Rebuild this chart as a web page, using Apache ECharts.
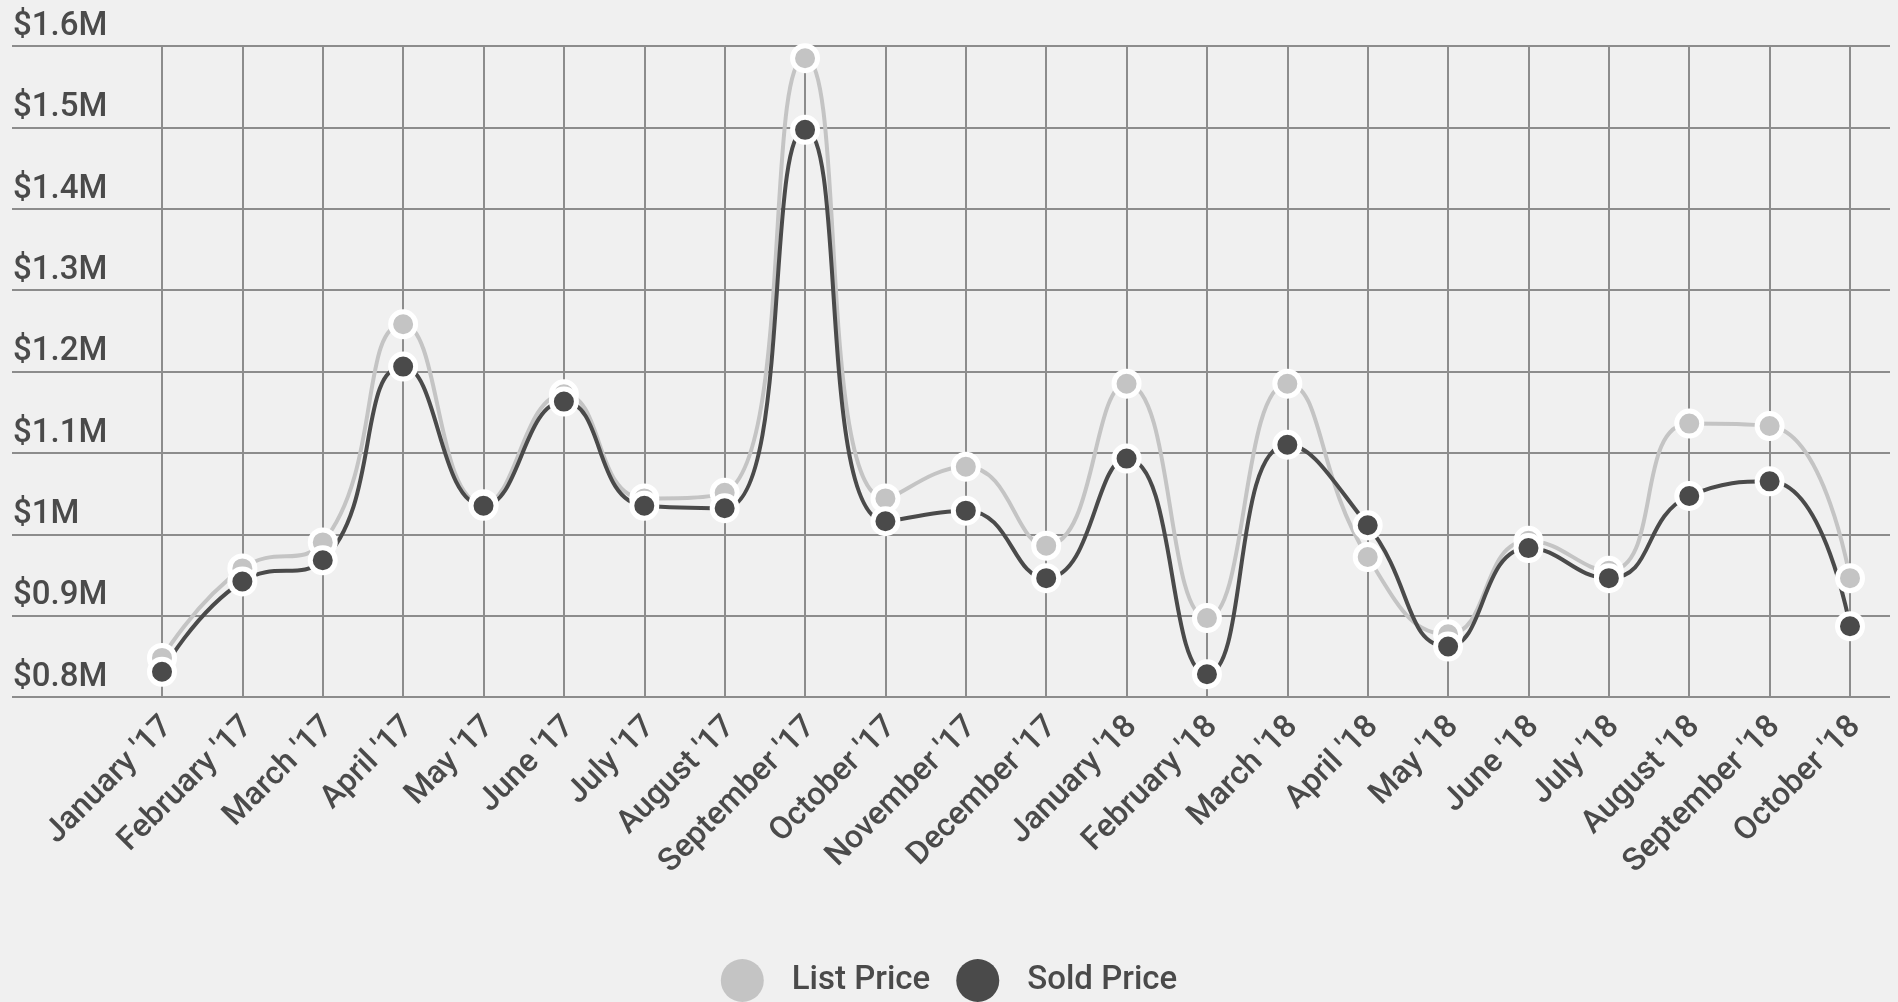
<!DOCTYPE html>
<html>
<head>
<meta charset="utf-8">
<script src="https://cdn.jsdelivr.net/npm/echarts@6/dist/echarts.min.js"></script>
<style>
html,body{margin:0;padding:0;background:#f0f0f0;}
#chart{width:1898px;height:1002px;}
</style>
</head>
<body>
<div id="chart"></div>
<script>
const categories = ["January '17","February '17","March '17","April '17","May '17","June '17","July '17","August '17","September '17","October '17","November '17","December '17","January '18","February '18","March '18","April '18","May '18","June '18","July '18","August '18","September '18","October '18"];
const listPrice = [848000, 958000, 990000, 1258000, 1037000, 1172000, 1044000, 1051000, 1585000, 1044000, 1083000, 986000, 1185000, 897000, 1185000, 972000, 877000, 992000, 955000, 1136000, 1133000, 946000];
const soldPrice = [831000, 942000, 968000, 1206000, 1035000, 1163000, 1035000, 1032000, 1497000, 1016000, 1029000, 946000, 1093000, 828000, 1110000, 1011000, 862000, 983000, 946000, 1047000, 1065000, 887000];
const yMin = 800000, yMax = 1600000, yStep = 100000;

const chart = echarts.init(document.getElementById('chart'), null, {renderer:'canvas'});
const gridColor = '#8c8c8c';
const textColor = '#4a4a4a';
const font = 'Roboto';

function fmt(v){ return '$' + (Math.round(v/1e4)/100) + 'M'; }

chart.setOption({
  backgroundColor: '#f0f0f0',
  animation: false,
  textStyle: {fontFamily: font},
  grid: [
    {left: 162, right: 48, top: 46, bottom: 305},
    {left: 12, right: 8, top: 46, bottom: 305}
  ],
  xAxis: [
    {
      type: 'category', gridIndex: 0, data: categories, boundaryGap: false,
      axisLine: {show: false}, axisTick: {show: false},
      splitLine: {show: true, lineStyle: {color: gridColor, width: 2}},
      axisLabel: {interval: 0, rotate: 45, margin: 8, verticalAlign: 'top', padding: [0, 8, 0, 0],
        color: textColor, fontSize: 32, fontWeight: 500, fontFamily: font}
    },
    {type: 'value', gridIndex: 1, show: false, min: 0, max: 1}
  ],
  yAxis: [
    {type: 'value', gridIndex: 0, min: yMin, max: yMax, interval: yStep, show: false, splitLine: {show: false}},
    {
      type: 'value', gridIndex: 1, min: yMin, max: yMax, interval: yStep,
      axisLine: {show: false}, axisTick: {show: false},
      splitLine: {show: true, lineStyle: {color: gridColor, width: 2}},
      axisLabel: {inside: true, margin: 1, verticalAlign: 'bottom', padding: [0,0,3,0], color: textColor,
        fontSize: 33, fontWeight: 500, fontFamily: font, formatter: fmt}
    }
  ],
  legend: {
    top: 959, left: 'center', padding: 0, icon: 'circle', itemWidth: 43, itemHeight: 43, itemGap: 26,
    itemStyle: {borderWidth: 0},
    textStyle: {color: textColor, fontSize: 33, fontWeight: 500, fontFamily: font, padding: [0,0,0,23]},
    data: ['List Price', 'Sold Price']
  },
  series: [
    {
      name: 'List Price', type: 'line', xAxisIndex: 0, yAxisIndex: 0, data: listPrice,
      smooth: 0.5, symbol: 'circle', symbolSize: 25,
      lineStyle: {color: '#c4c4c4', width: 4},
      itemStyle: {color: '#c4c4c4', borderColor: '#ffffff', borderWidth: 5}
    },
    {
      name: 'Sold Price', type: 'line', xAxisIndex: 0, yAxisIndex: 0, data: soldPrice,
      smooth: 0.5, symbol: 'circle', symbolSize: 25,
      lineStyle: {color: '#4a4a4a', width: 4},
      itemStyle: {color: '#4a4a4a', borderColor: '#ffffff', borderWidth: 5}
    }
  ]
});
</script>
</body>
</html>
